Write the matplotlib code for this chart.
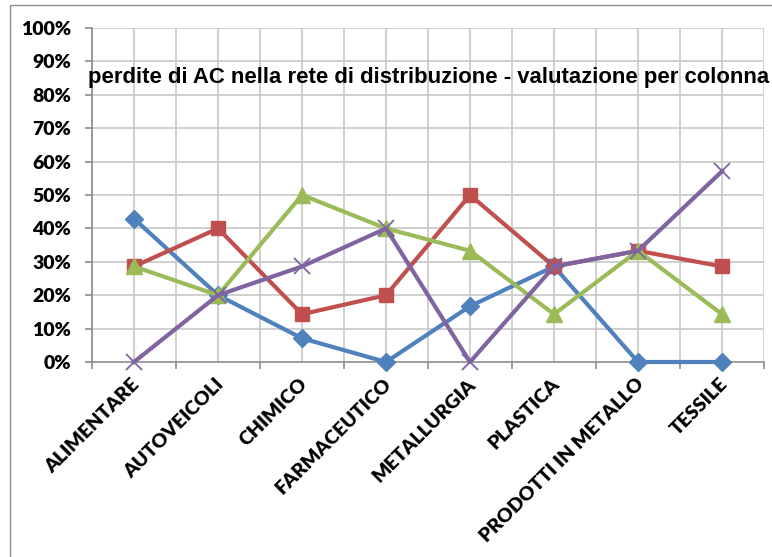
import matplotlib
matplotlib.use("Agg")
import matplotlib.pyplot as plt
from matplotlib.patches import Rectangle
from matplotlib.ticker import FuncFormatter, MultipleLocator

categories = ["ALIMENTARE", "AUTOVEICOLI", "CHIMICO", "FARMACEUTICO",
              "METALLURGIA", "PLASTICA", "PRODOTTI IN METALLO", "TESSILE"]

serie_blu = [42.9, 20.0, 7.1, 0.0, 16.7, 28.6, 0.0, 0.0]
serie_rossa = [28.6, 40.0, 14.3, 20.0, 50.0, 28.6, 33.3, 28.6]
serie_verde = [28.6, 20.0, 50.0, 40.0, 33.3, 14.3, 33.3, 14.3]
serie_viola = [0.0, 20.0, 28.6, 40.0, 0.0, 28.6, 33.3, 57.1]

title = "perdite di AC nella rete di distribuzione - valutazione per colonna"

W, H = 772, 557
fig = plt.figure(figsize=(W / 100, H / 100), dpi=100)
fig.patch.set_facecolor("white")

# chart-area frame
fig.patches.append(Rectangle((10 / W, -0.1), 1.2, 1 - 5 / H + 0.1,
                             transform=fig.transFigure, fill=False,
                             edgecolor="#8c8c8c", lw=1.0))

ax = fig.add_axes([92 / W, 1 - 362 / H, (764 - 92) / W, (362 - 28) / H])
x = list(range(len(categories)))

styles = [
    (serie_blu, "#4F81BD", "D", 9, None),
    (serie_rossa, "#C0504D", "s", 10.5, None),
    (serie_verde, "#9BBB59", "^", 11, None),
    (serie_viola, "#8064A2", "x", 11, 1.3),
]
for vals, col, mk, ms, mew in styles:
    kw = dict(color=col, lw=3.0, marker=mk, markersize=ms,
              markerfacecolor=col, markeredgecolor=col, clip_on=False, zorder=3)
    if mew is not None:
        kw["markeredgewidth"] = mew
    ax.plot(x, vals, **kw)

ax.set_xlim(-0.5, len(categories) - 0.5)
ax.set_ylim(0, 100)

grid_col = "#c8c8c8"
axis_col = "#8c8c8c"
for v in [i * 0.5 - 0.5 for i in range(2 * len(categories) + 1)]:
    ax.axvline(v, color=grid_col, lw=1.2, zorder=1)
for v in range(10, 101, 10):
    ax.axhline(v, color=grid_col, lw=1.2, zorder=1)

for s in ["top", "right"]:
    ax.spines[s].set_visible(False)
for s in ["left", "bottom"]:
    ax.spines[s].set_color(axis_col)
    ax.spines[s].set_linewidth(1.2)

ax.yaxis.set_major_locator(MultipleLocator(10))
ax.yaxis.set_major_formatter(FuncFormatter(lambda v, p: f"{int(round(v))}%"))
ax.set_xticks([i - 0.5 for i in range(len(categories) + 1)])
ax.set_xticklabels([])
ax.tick_params(axis="both", direction="out", length=5, width=1.2,
               color=axis_col)
ax.tick_params(axis="y", pad=10)
for lbl in ax.get_yticklabels():
    lbl.set_fontfamily("Lato")
    lbl.set_fontweight("heavy")
    lbl.set_fontsize(14)

# rotated category labels
for i, c in enumerate(categories):
    ax.annotate(c, xy=(i, 0), xycoords="data", xytext=(2, -14),
                textcoords="offset points", rotation=45,
                rotation_mode="anchor", ha="right", va="center",
                fontfamily="Lato", fontweight="heavy", fontsize=14,
                annotation_clip=False)

fig.text(429 / W, 1 - 78 / H, title, ha="center", va="center",
         fontfamily="Liberation Sans", fontweight="bold", fontsize=15.9)

fig.savefig("out.png", dpi=100, facecolor="white")
